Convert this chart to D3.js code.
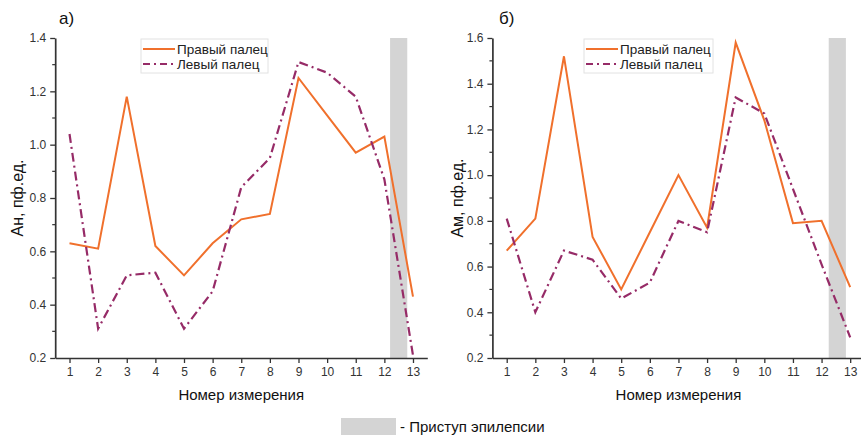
<!DOCTYPE html>
<html><head><meta charset="utf-8">
<script src="https://cdn.jsdelivr.net/npm/d3@7"></script>
<style>
body{margin:0;background:#fff;}
svg{display:block;font-family:"Liberation Sans",Arial,sans-serif;}
</style></head>
<body><svg id="c" width="861" height="436"></svg>
<script>
const measurements = [1,2,3,4,5,6,7,8,9,10,11,12,13];
const xTickLabels = ["1","2","3","4","5","6","7","8","9","10","11","12","13"];
const seriesNames = ["Правый палец","Левый палец"];
// Panel а) Ан
const rightA = [0.63,0.61,1.18,0.62,0.51,0.63,0.72,0.74,1.25,1.11,0.97,1.03,0.43];
const leftA  = [1.04,0.31,0.51,0.52,0.31,0.45,0.84,0.95,1.31,1.27,1.18,0.87,0.21];
// Panel б) Ам
const rightB = [0.67,0.81,1.52,0.73,0.50,0.75,1.00,0.77,1.58,1.24,0.79,0.80,0.51];
const leftB  = [0.81,0.40,0.67,0.63,0.46,0.53,0.80,0.75,1.34,1.27,0.94,0.61,0.29];
const yTicksA = [0.2,0.4,0.6,0.8,1.0,1.2,1.4];
const yTicksB = [0.2,0.4,0.6,0.8,1.0,1.2,1.4,1.6];
const seizureA = [12.2,12.8];
const seizureB = [12.25,12.85];
const panelLabels = ["а)","б)"];
const yTitles = ["Ан, пф.ед.","Ам, пф.ед."];
const xTitle = "Номер измерения";
const seizureLabel = "- Приступ эпилепсии";

const ORANGE = "#F0702C", PURPLE = "#962B67", GREY = "#D4D4D4", AX = "#333";
const svg = d3.select("#c");

function panel(cfg){
  const g = svg.append("g");
  const x = d3.scaleLinear().domain([0.5,13.5]).range([cfg.x0, cfg.x0 + 372.1]);
  const y = d3.scaleLinear().domain(cfg.yDom).range([358,38]);
  g.append("rect").attr("x", x(cfg.band[0])).attr("width", x(cfg.band[1]) - x(cfg.band[0]))
    .attr("y", y(cfg.yDom[1])).attr("height", y(cfg.yDom[0]) - y(cfg.yDom[1])).attr("fill", GREY);
  const line = vals => d3.line().x((d,i)=>x(measurements[i])).y(d=>y(d))(vals);
  g.append("path").attr("d", line(cfg.r)).attr("fill","none").attr("stroke",ORANGE)
    .attr("stroke-width",2).attr("stroke-linejoin","miter");
  g.append("path").attr("d", line(cfg.l)).attr("fill","none").attr("stroke",PURPLE)
    .attr("stroke-width",2.2).attr("stroke-dasharray","9,4,2,4");
  const xa = g.append("g").attr("transform",`translate(0,${y(cfg.yDom[0])})`)
    .call(d3.axisBottom(x).tickValues(measurements).tickFormat((d,i)=>xTickLabels[i]).tickSize(5).tickSizeOuter(0).tickPadding(4));
  const ya = g.append("g").attr("transform",`translate(${x(0.5)},0)`)
    .call(d3.axisLeft(y).tickValues(cfg.yTicks).tickFormat(d3.format(".1f")).tickSize(5).tickSizeOuter(0).tickPadding(4));
  const minor = cfg.yTicks.slice(0,-1).map((t,i)=>(t+cfg.yTicks[i+1])/2);
  ya.selectAll(".minor").data(minor).join("line").attr("class","minor")
    .attr("x1",-3).attr("x2",0).attr("y1",d=>y(d)).attr("y2",d=>y(d)).attr("stroke",AX).attr("stroke-width",1.2);
  [xa,ya].forEach(a=>{
    a.select(".domain").attr("stroke",AX).attr("stroke-width",1.7);
    a.selectAll(".tick line").attr("stroke",AX).attr("stroke-width",1.3);
    a.selectAll("text").attr("fill","#333").style("font-size","12px").style("font-family","'Liberation Sans',Arial,sans-serif");
  });
  g.append("text").attr("x", cfg.ytx).attr("y",198).attr("transform",`rotate(-90,${cfg.ytx},198)`)
    .attr("text-anchor","middle").attr("dominant-baseline","central").style("font-size","16px").attr("fill","#111").text(cfg.yTitle);
  g.append("text").attr("x",(x(0.5)+x(13.5))/2).attr("y",400).attr("text-anchor","middle")
    .style("font-size","15px").attr("fill","#111").text(xTitle);
  g.append("text").attr("x",cfg.lx).attr("y",24).style("font-size","17px").attr("fill","#111").text(cfg.label);
  const lg = g.append("g").attr("transform",`translate(${cfg.legX},39)`);
  lg.append("rect").attr("width",cfg.legW).attr("height",34).attr("fill","#fff").attr("stroke","#e2e2e2").attr("stroke-width",1);
  [[ORANGE,null,2],[PURPLE,"7,4,2,4",2.2]].forEach((s,i)=>{
    const yy = 10 + i*15;
    lg.append("line").attr("x1",2).attr("x2",34).attr("y1",yy).attr("y2",yy).attr("stroke",s[0])
      .attr("stroke-width",s[2]).attr("stroke-dasharray",s[1]);
    lg.append("text").attr("x",36).attr("y",yy).attr("dominant-baseline","central").style("font-size","13.5px")
      .attr("fill","#222").text(seriesNames[i]);
  });
}

panel({x0:55.2, yDom:[0.2,1.4], yTicks:yTicksA, r:rightA, l:leftA, band:seizureA,
  yTitle:yTitles[0], ytx:17, lx:59, label:panelLabels[0], legX:141, legW:127});
panel({x0:492.4, yDom:[0.2,1.6], yTicks:yTicksB, r:rightB, l:leftB, band:seizureB,
  yTitle:yTitles[1], ytx:457, lx:499, label:panelLabels[1], legX:584, legW:129});

svg.append("rect").attr("x",341).attr("y",418).attr("width",55).attr("height",17).attr("fill",GREY);
svg.append("text").attr("x",400).attr("y",432).style("font-size","15px").attr("fill","#111").text(seizureLabel);
</script></body></html>
